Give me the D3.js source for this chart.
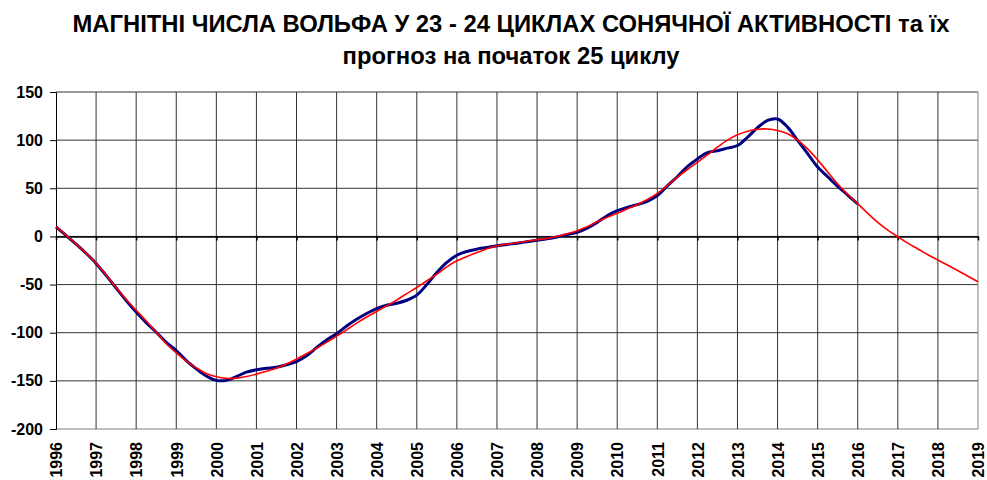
<!DOCTYPE html>
<html>
<head>
<meta charset="utf-8">
<script src="https://cdn.jsdelivr.net/npm/d3@7"></script>
<style>
  body { margin: 0; background: #fff; }
  svg { display: block; font-family: "Liberation Sans", Arial, sans-serif; }
</style>
</head>
<body>
<div id="chart"></div>
<script>
// title lines
const titleLines = [
    'МАГНІТНІ ЧИСЛА ВОЛЬФА У 23 - 24 ЦИКЛАХ СОНЯЧНОЇ АКТИВНОСТІ та їх',
    'прогноз на початок 25 циклу'
];

// year tick labels
const years = d3.range(1996, 2020);
const yTicks = [150, 100, 50, 0, -50, -100, -150, -200];

// sample times (quarter years)
const blueT = d3.range(0, 81).map(i => 1996 + i / 4);   // 1996 .. 2016
const redT = d3.range(0, 93).map(i => 1996 + i / 4);    // 1996 .. 2019

// observed (blue) values, quarter-year steps from 1996
const blueV = [
    10, 1, -8, -17.5,
    -28, -40.5, -53.5, -66.5,
    -78.5, -89.5, -99.5, -110,
    -118.5, -129, -137.5, -145,
    -149.5, -149.5, -145.5, -141,
    -138.5, -137, -135.8, -133.3,
    -130, -124, -115.5, -107.5,
    -101, -93, -86, -80,
    -75, -71.5, -69.4, -66.3,
    -61, -50, -37.5, -27,
    -19.5, -15.6, -13.2, -11.5,
    -9.7, -8.3, -7, -5.5,
    -4, -2.5, -0.5, 2,
    4.2, 8.7, 14.6, 21.5,
    26.7, 30.2, 33, 36.5,
    42.4, 52.5, 62, 72.5,
    80.5, 87, 89, 91.7,
    94.4, 103, 113, 120.5,
    122, 113.5, 99.7, 86,
    72, 62, 52, 43,
    33.7
];

// smoothed / forecast (red) values, quarter-year steps from 1996
const redV = [
    10, 1.4, -8, -17.4,
    -27.8, -40, -53, -65.5,
    -76.7, -87.8, -99.5, -111.5,
    -121, -129.5, -136.5, -142.4,
    -145.8, -147.4, -147.2, -145.5,
    -143, -140, -136.8, -132.6,
    -127.4, -121.8, -116, -110,
    -103.5, -97, -90, -83.7,
    -78, -72, -66, -59.4,
    -53, -46, -39.2, -31.6,
    -25.3, -20.8, -16.7, -12.8,
    -9.7, -8, -6.5, -5,
    -3.5, -2, 0, 2.5,
    5.9, 10, 15.3, 19.8,
    24, 28.5, 33, 38.5,
    44.8, 52.8, 61.5, 69.5,
    77, 84.7, 92.7, 100,
    105.5, 109.2, 111.3, 111.6,
    110, 106.6, 100, 91,
    79.5, 67, 54.5, 43.5,
    34, 24, 14.6, 6.5,
    -0.3, -7, -13, -19,
    -24.5, -30, -35.6, -41.3,
    -47
];

const width = 987, height = 480;
const margin = { top: 92, right: 9, bottom: 51, left: 56 };

const svg = d3.select('#chart')
    .append('svg')
    .attr('width', width)
    .attr('height', height);

// title
svg.append('g')
    .selectAll('text')
    .data(titleLines)
    .enter()
    .append('text')
    .attr('x', 511)
    .attr('y', (d, i) => 31.5 + i * 32.5)
    .attr('text-anchor', 'middle')
    .attr('font-size', '23.8px')
    .attr('font-weight', 'bold')
    .attr('fill', '#000')
    .text(d => d);

const x = d3.scaleLinear()
    .domain([1996, 2019])
    .range([margin.left, width - margin.right]);
const y = d3.scaleLinear()
    .domain([-200, 150])
    .range([height - margin.bottom, margin.top]);

// grid
const grid = svg.append('g');
grid.selectAll('.hgrid')
    .data(yTicks)
    .enter()
    .append('line')
    .attr('x1', x(1996)).attr('x2', x(2019))
    .attr('y1', d => y(d)).attr('y2', d => y(d))
    .attr('stroke', d => d === -200 ? '#808080' : '#333')
    .attr('stroke-width', 1);
grid.selectAll('.vgrid')
    .data(years.slice(1))
    .enter()
    .append('line')
    .attr('x1', d => x(d)).attr('x2', d => x(d))
    .attr('y1', y(150)).attr('y2', y(-200))
    .attr('stroke', d => d === 2019 ? '#808080' : '#333')
    .attr('stroke-width', 1);

// y axis
const yAxis = svg.append('g')
    .attr('transform', `translate(${x(1996)},0)`)
    .call(d3.axisLeft(y).tickValues(yTicks).tickSize(6).tickPadding(7).tickFormat(d => String(d)));
yAxis.select('.domain').attr('stroke', '#000');
yAxis.selectAll('.tick line').attr('stroke', '#000');
yAxis.selectAll('text')
    .attr('font-size', '16px')
    .attr('font-weight', 'bold')
    .attr('font-family', '"Liberation Sans", Arial, sans-serif')
    .attr('fill', '#000');

// zero line with year ticks
const zeroAxis = svg.append('g')
    .attr('transform', `translate(0,${y(0)})`)
    .call(d3.axisBottom(x).tickValues(years).tickSize(4).tickSizeOuter(0).tickFormat(''));
zeroAxis.select('.domain').attr('stroke', '#000').attr('stroke-width', 1.6);
zeroAxis.selectAll('.tick line').attr('stroke', '#000').attr('stroke-width', 1.5);

// year labels at bottom
const xAxis = svg.append('g')
    .attr('transform', `translate(0,${y(-200)})`)
    .call(d3.axisBottom(x).tickValues(years).tickSize(0).tickFormat(d => String(d)));
xAxis.select('.domain').remove();
xAxis.selectAll('text')
    .attr('transform', 'rotate(-90)')
    .attr('text-anchor', 'end')
    .attr('x', -13)
    .attr('y', 0)
    .attr('dy', '0.36em')
    .attr('font-size', '16px')
    .attr('font-weight', 'bold')
    .attr('font-family', '"Liberation Sans", Arial, sans-serif')
    .attr('fill', '#000');

// lines
const line = d3.line()
    .x(d => x(d[0]))
    .y(d => y(d[1]))
    .curve(d3.curveCatmullRom.alpha(0.5));

const blueData = blueT.map((t, i) => [t, blueV[i]]);
const redData = redT.map((t, i) => [t, redV[i]]);

svg.append('path')
    .datum(blueData)
    .attr('fill', 'none')
    .attr('stroke', '#000080')
    .attr('stroke-width', 3)
    .attr('stroke-linejoin', 'round')
    .attr('d', line);

svg.append('path')
    .datum(redData)
    .attr('fill', 'none')
    .attr('stroke', '#ff0000')
    .attr('stroke-width', 1.6)
    .attr('d', line);
</script>
</body>
</html>
